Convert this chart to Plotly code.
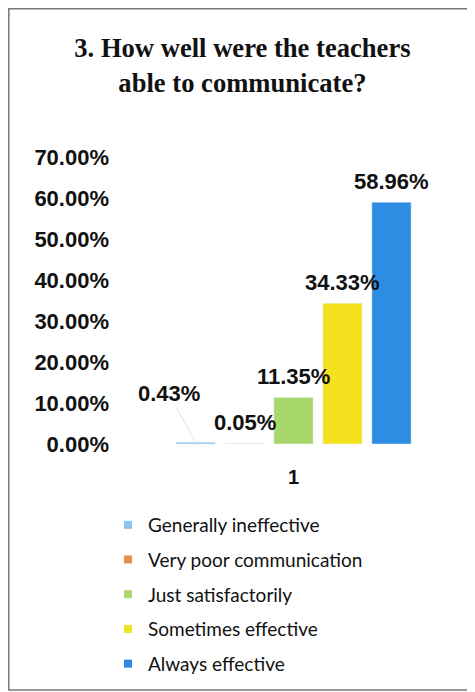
import plotly.graph_objects as go

categories = ["1"]
series_names = ["Generally ineffective", "Very poor communication", "Just satisfactorily",
                "Sometimes effective", "Always effective"]
series_values = [0.0043, 0.0005, 0.1135, 0.3433, 0.5896]
series_labels = ["0.43%", "0.05%", "11.35%", "34.33%", "58.96%"]
colors = ["#8CC4EE", "#E8904B", "#A8D86B", "#F5E21E", "#2C8DE3"]
y_ticks = [0, 0.1, 0.2, 0.3, 0.4, 0.5, 0.6, 0.7]

# page body has an 8px margin; figure sized to fit the window
W, H = 467, 684
# plot area in figure pixels
PL, PR, PT, PB = 108, 463, 149, 436
bargap = 0.31
n = len(series_names)

fig = go.Figure()
for i, (name, val, col) in enumerate(zip(series_names, series_values, colors)):
    fig.add_trace(go.Bar(x=categories, y=[val], name=name, marker_color=col,
                         showlegend=False))
    fig.add_trace(go.Scatter(x=[None], y=[None], mode="markers", name=name,
                             marker=dict(symbol="square", size=8, color=col),
                             legendgroup=f"g{i}", showlegend=True))

lab_font = dict(family="Liberation Sans", size=22, color="#111", weight="bold")
slot = (1 - bargap) / n
annotations = []
for i, (val, lab) in enumerate(zip(series_values, series_labels)):
    xpos = (i - (n - 1) / 2) * slot
    if i == 0:
        annotations.append(dict(x=xpos, y=val, xref="x", yref="y", text=lab,
                                showarrow=True, ax=-27, ay=-49, arrowhead=0,
                                arrowwidth=1, arrowcolor="#e2e2e2", standoff=0,
                                font=lab_font))
    else:
        annotations.append(dict(x=xpos, y=val, xref="x", yref="y", text=lab,
                                showarrow=False, yshift=21, yanchor="middle",
                                font=lab_font))

fig.update_layout(
    width=W, height=H,
    margin=dict(l=0, r=0, t=0, b=0, pad=0, autoexpand=False),
    paper_bgcolor="white", plot_bgcolor="white",
    barmode="group", bargap=bargap, bargroupgap=0.2,
    title=dict(text="3. How well were the teachers<br>able to communicate?",
               x=0.502, xanchor="center", y=1 - 49 / H, yanchor="top",
               font=dict(family="Liberation Serif", size=26.6, color="#111", weight="bold")),
    xaxis=dict(domain=[PL / W, PR / W], showgrid=False, showline=False,
               zeroline=False, ticks="", automargin=False,
               tickfont=dict(family="Liberation Sans", size=20, color="#111", weight="bold"),
               ticklabelstandoff=19),
    yaxis=dict(domain=[1 - PB / H, 1 - PT / H], range=[0, 0.7], tickvals=y_ticks,
               tickformat=".2%", showgrid=False, automargin=False,
               showline=False, zeroline=False, ticks="",
               tickfont=lab_font, ticklabelstandoff=6),
    legend=dict(x=100 / W, y=1 - 498 / H, xref="paper", yref="paper",
                xanchor="left", yanchor="top", tracegroupgap=7,
                bgcolor="rgba(0,0,0,0)",
                font=dict(family="Lato", size=19, color="#111"), itemwidth=30),
    annotations=annotations,
    shapes=[dict(type="rect", xref="paper", yref="paper",
                 x0=0.8 / W, x1=(W + 5) / W, y0=1 - 682 / H, y1=1 - 0.8 / H,
                 line=dict(color="#777", width=1.5), fillcolor="rgba(0,0,0,0)")],
)

fig.write_html("out.html")
